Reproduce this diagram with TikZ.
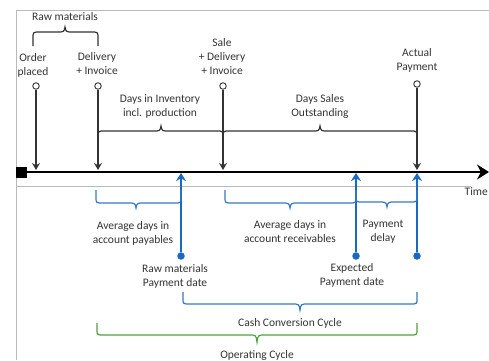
\documentclass[tikz,border=0pt]{standalone}
\usepackage{fontspec}
\setmainfont{Carlito}
\usepackage{tikz}
\usetikzlibrary{arrows.meta, positioning}
\usepackage{xcolor}

\definecolor{arrowblue}{RGB}{24,104,196}
\definecolor{braceblue}{RGB}{52,120,200}
\definecolor{cyclegreen}{RGB}{78,160,58}

% curly bracket: [colour]{x left}{x right}{x tip}{y flat}{end drop}{tip rise}
\newcommand{\cbrace}[7][black!80]{%
  \draw[line width=1.2pt, #1] (#2,{#5+#6}) -- (#2,{#5+0.45*#6})
    .. controls (#2,#5) .. (#2+7,#5) -- (#4-8,#5)
    .. controls (#4-1,#5) .. (#4,{#5-#7})
    .. controls (#4+1,#5) .. (#4+8,#5) -- (#3-7,#5)
    .. controls (#3,#5) .. (#3,{#5+0.45*#6}) -- (#3,{#5+#6});}

\tikzset{
  lbl/.style={font=\fontsize{11.5}{14}\selectfont, align=center, inner sep=0pt, text=black!80},
  ring/.style={circle, draw=black!80, line width=0.9pt, fill=white, minimum size=6.5pt, inner sep=0pt},
  dot/.style={circle, fill=arrowblue, minimum size=7.5pt, inner sep=0pt},
  event/.style={black!80, line width=1.1pt, -{Stealth[length=7pt, width=8pt]}},
  pay/.style={arrowblue, line width=1.5pt, -{Stealth[length=8pt, width=10pt]}},
  frame/.style={gray!55, line width=0.8pt}
}

\begin{document}
\begin{tikzpicture}[x=1pt, y=-1pt]
\useasboundingbox (0,0) rectangle (489,360);

% slide frame
\draw[frame] (16,360) -- (16,10) -- (489,10);
\draw[frame] (16,186) -- (471,186);

% time axis
\node[fill=black, minimum size=11pt, inner sep=0pt] (start) at (21.5,172) {};
\coordinate (tend) at (489,172);
\draw[line width=1.8pt, -{Stealth[length=12pt, width=15pt]}] (start) -- (tend);
\node[lbl, anchor=east] (time) at (488,192) {Time};

% events above the axis
\node[ring] (order) at (36,86) {};
\node[ring] (delivery) at (98,86) {};
\node[ring] (sale) at (223,86) {};
\node[ring] (actual) at (417,84) {};
\coordinate (order-t) at (36,170);
\coordinate (delivery-t) at (98,170);
\coordinate (sale-t) at (223,170);
\coordinate (actual-t) at (417,170);
\draw[event] (order) -- (order-t);
\draw[event] (delivery) -- (delivery-t);
\draw[event] (sale) -- (sale-t);
\draw[event] (actual) -- (actual-t);

\node[lbl] (rawmat) at (65,17) {Raw materials};
\node[lbl] (orderlbl) at (33,65) {Order\\placed};
\node[lbl] (deliverylbl) at (97,64) {Delivery\\+ Invoice};
\node[lbl] (salelbl) at (222,57) {Sale\\+ Delivery\\+ Invoice};
\node[lbl] (actuallbl) at (417,60) {Actual\\Payment};
\node[lbl] (dio) at (160,106) {Days in Inventory\\incl. production};
\node[lbl] (dso) at (320,106) {Days Sales\\Outstanding};

\cbrace{33}{98}{65}{32}{14}{5}
\cbrace{98}{223}{161}{131}{13}{5}
\cbrace{223}{417}{320}{131}{13}{5}

% payments below the axis
\node[dot] (rawpay) at (181,256) {};
\node[dot] (exppay) at (356,256) {};
\node[dot] (actpay) at (417,256) {};
\coordinate (rawpay-t) at (181,173);
\coordinate (exppay-t) at (356,173);
\coordinate (actpay-t) at (417,173);
\draw[pay] (rawpay) -- (rawpay-t);
\draw[pay] (exppay) -- (exppay-t);
\draw[pay] (actpay) -- (actpay-t);

\cbrace[braceblue]{96}{181}{136}{203}{-13}{-5}
\cbrace[braceblue]{225}{356}{290}{203}{-13}{-5}
\cbrace[braceblue]{356}{417}{387}{202}{-12}{-5}
\cbrace[braceblue]{183}{417}{300}{304}{-12}{-6}
\cbrace[cyclegreen]{97}{417}{257}{335}{-12}{-7}

\node[lbl] (dpo) at (133,233) {Average days in\\account payables};
\node[lbl] (dro) at (290,232) {Average days in\\account receivables};
\node[lbl] (delay) at (383,232) {Payment\\delay};
\node[lbl] (rawpaylbl) at (175,276) {Raw materials\\Payment date};
\node[lbl] (exppaylbl) at (352,275) {Expected\\Payment date};
\node[lbl] (ccc) at (290,323) {Cash Conversion Cycle};
\node[lbl] (opc) at (257,355) {Operating Cycle};
\end{tikzpicture}
\end{document}
